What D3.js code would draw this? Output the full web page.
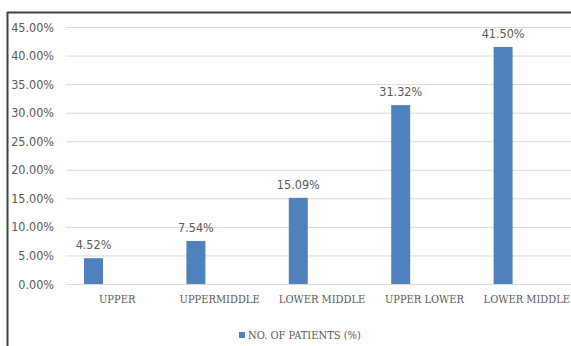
<!DOCTYPE html>
<html>
<head>
<meta charset="utf-8">
<script src="https://cdn.jsdelivr.net/npm/d3@7"></script>
<style>
  body { margin: 0; background: #fff; }
  svg { display: block; }
</style>
</head>
<body>
<div id="chart"></div>
<script>
const categories = ['UPPER', 'UPPERMIDDLE', 'LOWER MIDDLE', 'UPPER LOWER', 'LOWER MIDDLE']
const patients = [4.52, 7.54, 15.09, 31.32, 41.50]
const yTicks = [0, 5, 10, 15, 20, 25, 30, 35, 40, 45]
const seriesName = 'NO. OF PATIENTS (%)'

const W = 571, H = 346
const plot = { left: 66, right: 578, top: 27, bottom: 284 }
const barColor = '#4f81bd'
const textColor = '#595959'

const svg = d3.select('#chart')
    .append('svg')
        .attr('width', W)
        .attr('height', H)

// frame (only left and top edges show, the rest is cropped)
svg.append('line')
    .attr('x1', 7.5).attr('x2', 7.5).attr('y1', 12).attr('y2', H)
    .attr('stroke', '#404040').attr('stroke-width', 2)
svg.append('line')
    .attr('x1', 7).attr('x2', W).attr('y1', 12.5).attr('y2', 12.5)
    .attr('stroke', '#404040').attr('stroke-width', 2)

const x = d3.scaleBand()
    .domain(categories.map((c, i) => i))
    .range([plot.left, plot.right])

const y = d3.scaleLinear()
    .domain([0, 45])
    .range([plot.bottom, plot.top])

// gridlines + y labels
const yAxis = svg.append('g')
    .attr('transform', `translate(${plot.left}, 0)`)
    .call(d3.axisLeft(y)
        .tickValues(yTicks)
        .tickSize(-(plot.right - plot.left))
        .tickPadding(12)
        .tickFormat(d => d3.format('.2f')(d) + '%'))
yAxis.select('.domain').remove()
yAxis.selectAll('line').attr('stroke', '#d9d9d9').attr('stroke-width', 1)
yAxis.selectAll('text')
    .attr('fill', textColor)
    .style('font-family', '"Liberation Sans Narrow", "DejaVu Sans Condensed", sans-serif')
    .style('font-size', '12.5px')

// category labels
const xAxis = svg.append('g')
    .attr('transform', `translate(0, ${plot.bottom})`)
    .call(d3.axisBottom(x).tickSize(0).tickPadding(10).tickFormat(i => categories[i]))
xAxis.select('.domain').remove()
xAxis.selectAll('text')
    .attr('fill', textColor)
    .attr('dy', '0.85em')
    .style('font-family', '"DejaVu Serif Condensed", "Liberation Serif", serif')
    .style('font-size', '11px')

// bars sit left of band centre (Excel clustered layout)
const barW = 19
const barOffset = 18

svg.append('g')
    .selectAll('rect')
    .data(patients)
    .enter()
    .append('rect')
        .attr('x', (d, i) => x(i) + barOffset)
        .attr('y', d => y(d))
        .attr('width', barW)
        .attr('height', d => plot.bottom - y(d))
        .attr('fill', barColor)

svg.append('g')
    .selectAll('text')
    .data(patients)
    .enter()
    .append('text')
        .attr('x', (d, i) => x(i) + barOffset + barW / 2)
        .attr('y', d => y(d) - 9)
        .attr('text-anchor', 'middle')
        .attr('fill', textColor)
        .style('font-family', '"Liberation Sans Narrow", "DejaVu Sans Condensed", sans-serif')
        .style('font-size', '12.5px')
        .text(d => d3.format('.2f')(d) + '%')

// legend
const legend = svg.append('g').attr('transform', 'translate(239, 332)')
legend.append('rect')
    .attr('width', 6).attr('height', 6)
    .attr('fill', barColor)
legend.append('text')
    .attr('x', 9).attr('y', 7)
    .attr('fill', textColor)
    .style('font-family', '"DejaVu Serif Condensed", "Liberation Serif", serif')
    .style('font-size', '11px')
    .text(seriesName)
</script>
</body>
</html>
